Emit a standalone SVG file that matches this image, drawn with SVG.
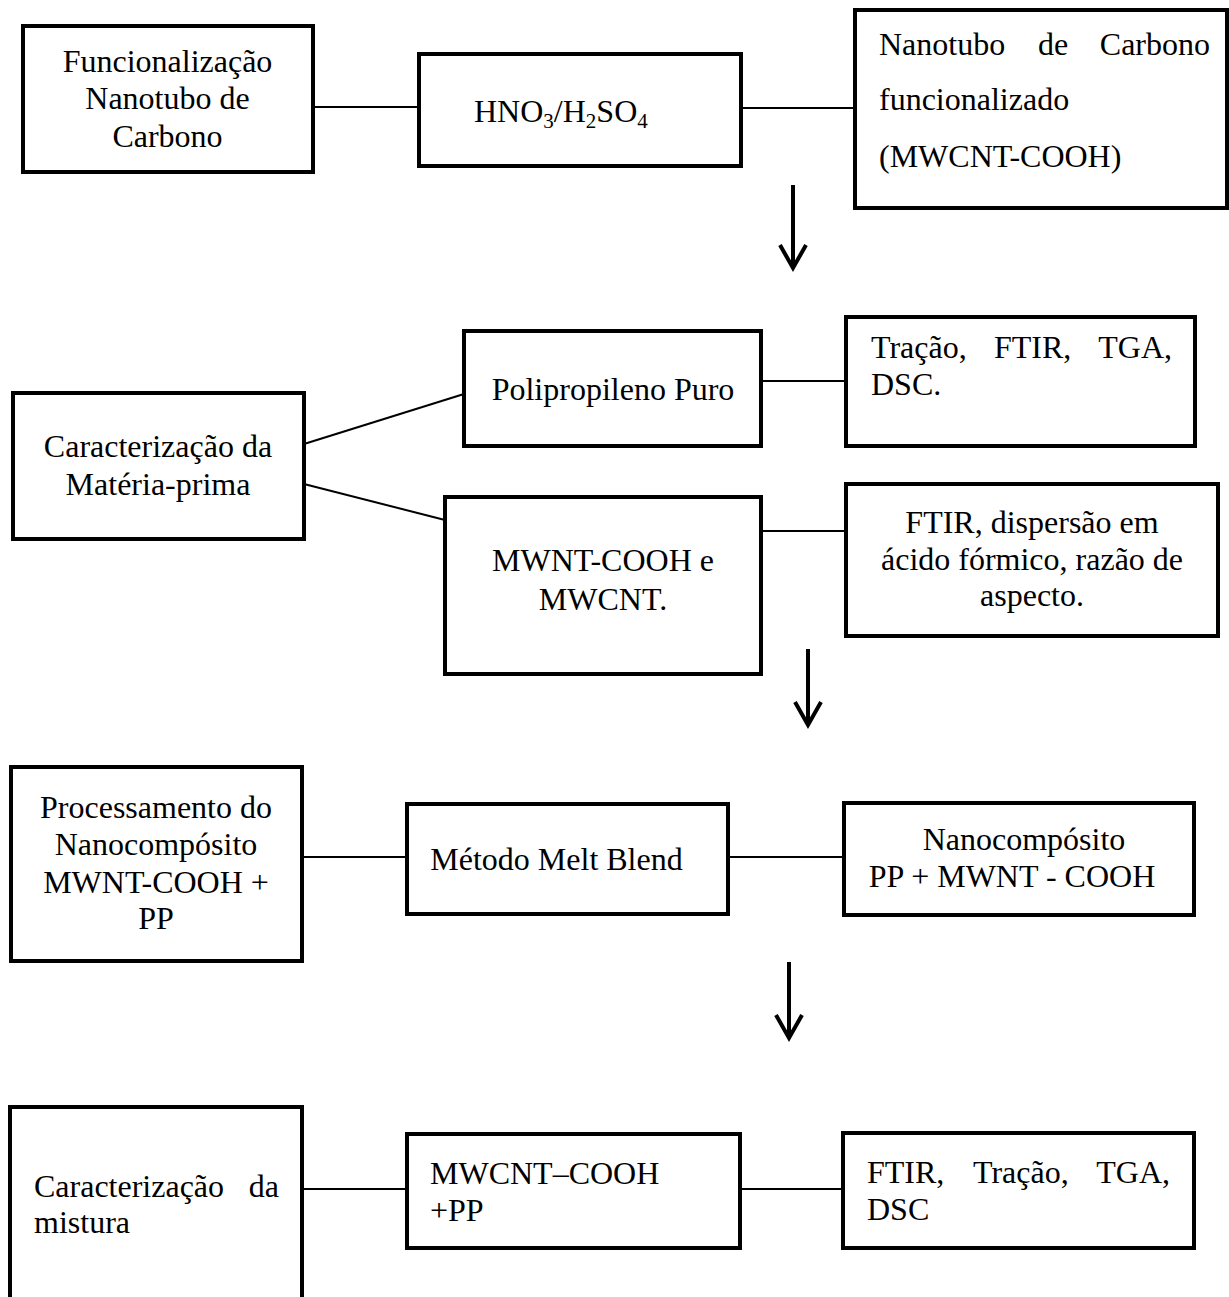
<svg xmlns="http://www.w3.org/2000/svg" width="1229" height="1297" viewBox="0 0 1229 1297">
<style>
.box{fill:#fff;stroke:#000;stroke-width:4}
.t{font-family:"Liberation Serif","Times New Roman",serif;font-size:32px;fill:#000}
.c{text-anchor:middle}
.e{text-anchor:end}
.ln{stroke:#000;stroke-width:2;fill:none}
.ar{stroke:#000;stroke-width:4;fill:none}
</style>
<rect width="1229" height="1297" fill="#fff"/>
<g id="connectors">
<line class="ln" x1="313" y1="107" x2="419" y2="107"/>
<line class="ln" x1="741" y1="108" x2="855" y2="108"/>
<line class="ln" x1="304" y1="444" x2="464" y2="394"/>
<line class="ln" x1="304" y1="484" x2="445" y2="520"/>
<line class="ln" x1="761" y1="381" x2="846" y2="381"/>
<line class="ln" x1="761" y1="531" x2="846" y2="531"/>
<line class="ln" x1="302" y1="857" x2="407" y2="857"/>
<line class="ln" x1="728" y1="857" x2="844" y2="857"/>
<line class="ln" x1="302" y1="1189" x2="407" y2="1189"/>
<line class="ln" x1="740" y1="1189" x2="843" y2="1189"/>
<path class="ar" d="M793 185V268M780 245L793 268L806 245"/>
<path class="ar" d="M808 649V725M795 702L808 725L821 702"/>
<path class="ar" d="M789 962V1038M776 1015L789 1038L802 1015"/>
</g>
<g id="n1"><rect class="box" x="23" y="26" width="290" height="146"/>
<text class="t c" x="167.5" y="72">Funcionalização</text>
<text class="t c" x="167.5" y="109">Nanotubo de</text>
<text class="t c" x="167.5" y="147">Carbono</text></g>
<g id="n2"><rect class="box" x="419" y="54" width="322" height="112"/>
<text class="t" x="474" y="122">HNO<tspan font-size="21" dy="6">3</tspan><tspan dy="-6">/H</tspan><tspan font-size="21" dy="6">2</tspan><tspan dy="-6">SO</tspan><tspan font-size="21" dy="6">4</tspan></text></g>
<g id="n3"><rect class="box" x="855" y="10" width="372" height="198"/>
<text class="t" x="879" y="55">Nanotubo</text><text class="t" x="1038" y="55">de</text><text class="t e" x="1210" y="55">Carbono</text>
<text class="t" x="879" y="110">funcionalizado</text>
<text class="t" x="879" y="167">(MWCNT-COOH)</text></g>
<g id="n4"><rect class="box" x="13" y="393" width="291" height="146"/>
<text class="t c" x="158" y="457">Caracterização da</text>
<text class="t c" x="158" y="495">Matéria-prima</text></g>
<g id="n5"><rect class="box" x="464" y="331" width="297" height="115"/>
<text class="t c" x="613" y="400">Polipropileno Puro</text></g>
<g id="n6"><rect class="box" x="846" y="317" width="349" height="129"/>
<text class="t" x="871" y="358">Tração,</text><text class="t" x="994" y="358">FTIR,</text><text class="t e" x="1172" y="358">TGA,</text>
<text class="t" x="871" y="395">DSC.</text></g>
<g id="n7"><rect class="box" x="445" y="497" width="316" height="177"/>
<text class="t c" x="603" y="571">MWNT-COOH e</text>
<text class="t c" x="603" y="610">MWCNT.</text></g>
<g id="n8"><rect class="box" x="846" y="484" width="372" height="152"/>
<text class="t c" x="1032" y="533">FTIR, dispersão em</text>
<text class="t c" x="1032" y="570">ácido fórmico, razão de</text>
<text class="t c" x="1032" y="606">aspecto.</text></g>
<g id="n9"><rect class="box" x="11" y="767" width="291" height="194"/>
<text class="t c" x="156" y="818">Processamento do</text>
<text class="t c" x="156" y="855">Nanocompósito</text>
<text class="t c" x="156" y="893">MWNT-COOH +</text>
<text class="t c" x="156" y="929">PP</text></g>
<g id="n10"><rect class="box" x="407" y="804" width="321" height="110"/>
<text class="t c" x="556.5" y="870">Método Melt Blend</text></g>
<g id="n11"><rect class="box" x="844" y="803" width="350" height="112"/>
<text class="t c" x="1024" y="850">Nanocompósito</text>
<text class="t c" x="1012" y="887">PP + MWNT - COOH</text></g>
<g id="n12"><rect class="box" x="10" y="1107" width="292" height="220"/>
<text class="t" x="34" y="1197">Caracterização</text><text class="t e" x="279" y="1197">da</text>
<text class="t" x="34" y="1233">mistura</text></g>
<g id="n13"><rect class="box" x="407" y="1134" width="333" height="114"/>
<text class="t" x="430" y="1184">MWCNT–COOH</text>
<text class="t" x="430" y="1221">+PP</text></g>
<g id="n14"><rect class="box" x="843" y="1133" width="351" height="115"/>
<text class="t" x="867" y="1183">FTIR,</text><text class="t" x="973" y="1183">Tração,</text><text class="t e" x="1170" y="1183">TGA,</text>
<text class="t" x="867" y="1220">DSC</text></g>
</svg>
